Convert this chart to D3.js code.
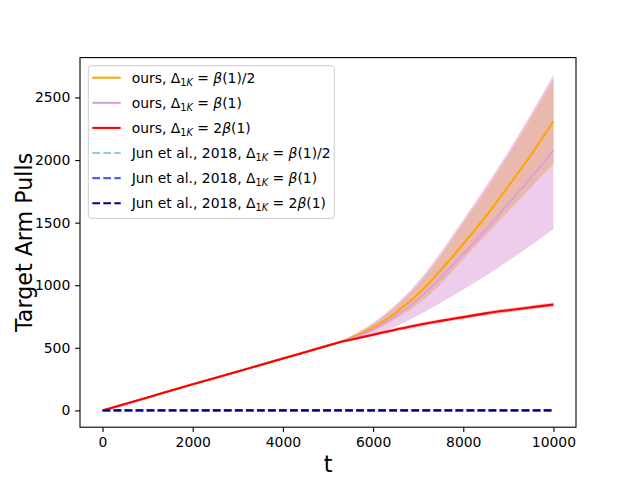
<!DOCTYPE html>
<html>
<head>
<meta charset="utf-8">
<script src="https://cdn.jsdelivr.net/npm/d3@7"></script>
<style>
  body { margin: 0; background: #fff; }
  text { font-family: "DejaVu Sans", sans-serif; }
</style>
</head>
<body>
<div id="chart"></div>
<script>
const width = 640;
const height = 480;
const margin = { left: 80, right: 64, top: 57.6, bottom: 52.8 };

// time steps
const steps = [0, 1000, 2000, 3000, 4000, 5000, 5270, 5500, 6000, 6500, 7000, 7500, 8000, 8500, 9000, 9500, 10000];

// ours, Δ = β(1)/2
const orangeMean = [0, 104, 208, 311, 415, 518, 547, 578, 660, 780, 930, 1120, 1330, 1550, 1790, 2040, 2310];
const orangeLow  = [0, 104, 208, 311, 415, 518, 547, 570, 635, 730, 850, 1010, 1210, 1400, 1590, 1780, 1970];
const orangeHigh = [0, 104, 208, 311, 415, 518, 547, 588, 690, 830, 1010, 1240, 1500, 1760, 2040, 2340, 2650];

// ours, Δ = β(1)
const plumMean = [0, 104, 208, 311, 415, 518, 547, 572, 645, 755, 890, 1060, 1250, 1445, 1650, 1860, 2075];
const plumLow  = [0, 104, 208, 311, 415, 518, 545, 556, 600, 670, 760, 860, 965, 1075, 1195, 1320, 1450];
const plumHigh = [0, 104, 208, 311, 415, 518, 549, 592, 700, 845, 1030, 1265, 1525, 1790, 2070, 2370, 2684];

// ours, Δ = 2β(1)
const redMean = [0, 104, 208, 311, 415, 518, 547, 565, 605, 645, 683, 715, 745, 775, 800, 823, 845];
const redLow  = [0, 100, 202, 303, 406, 508, 537, 554, 593, 632, 669, 701, 731, 760, 785, 808, 830];
const redHigh = [0, 108, 214, 319, 424, 528, 557, 576, 617, 658, 697, 729, 759, 790, 815, 838, 860];

// Jun et al., 2018 (all zero)
const junSteps = [0, 10000];
const junMean = [0, 0];

const xTicks = [0, 2000, 4000, 6000, 8000, 10000];
const yTicks = [0, 500, 1000, 1500, 2000, 2500];

const legendPrefix = ["ours, ", "ours, ", "ours, ", "Jun et al., 2018, ", "Jun et al., 2018, ", "Jun et al., 2018, "];
const legendRhs = ["β(1)/2", "β(1)", "2β(1)", "β(1)/2", "β(1)", "2β(1)"];
const legendColors = ["#ffa500", "#dda0dd", "#ff0000", "#87ceeb", "#4169e1", "#000080"];
const legendDashed = [false, false, false, true, true, true];

const svg = d3.select("#chart").append("svg")
  .attr("width", width)
  .attr("height", height);

const plotW = width - margin.left - margin.right;
const plotH = height - margin.top - margin.bottom;

const xMin = 0, xMax = 10000;
const xPad = (xMax - xMin) * 0.05;
const x = d3.scaleLinear().domain([xMin - xPad, xMax + xPad]).range([margin.left, margin.left + plotW]);

const yMin = 0, yMax = d3.max(plumHigh);
const yPad = (yMax - yMin) * 0.05;
const y = d3.scaleLinear().domain([yMin - yPad, yMax + yPad]).range([margin.top + plotH, margin.top]);

const zip = (ts, a, b) => ts.map((t, i) => ({ t, a: a[i], b: b ? b[i] : null }));

const area = d3.area().x(d => x(d.t)).y0(d => y(d.a)).y1(d => y(d.b)).curve(d3.curveMonotoneX);
const line = d3.line().x(d => x(d.t)).y(d => y(d.a)).curve(d3.curveMonotoneX);

const g = svg.append("g");

// bands
g.append("path").attr("d", area(zip(steps, plumLow, plumHigh))).attr("fill", "#eecdec");
g.append("path").attr("d", area(zip(steps, orangeLow, orangeHigh))).attr("fill", "#eab9ae");
g.append("path").attr("d", area(zip(steps, redLow, redHigh))).attr("fill", "#ff0000").attr("opacity", 0.3);

// lines
const drawLine = (ts, vals, color, dashed) => {
  g.append("path")
    .attr("d", line(zip(ts, vals)))
    .attr("fill", "none")
    .attr("stroke", color)
    .attr("stroke-width", 2.08)
    .attr("stroke-dasharray", dashed ? "7.7,3.33" : null);
};
drawLine(steps, orangeMean, legendColors[0], false);
drawLine(steps, plumMean, legendColors[1], false);
drawLine(steps, redMean, legendColors[2], false);
drawLine(junSteps, junMean, legendColors[3], true);
drawLine(junSteps, junMean, legendColors[4], true);
drawLine(junSteps, junMean, legendColors[5], true);

// axes
const xAxis = d3.axisBottom(x).tickValues(xTicks).tickFormat(d3.format("d")).tickSizeOuter(0).tickSize(4.86).tickPadding(4.86);
const yAxis = d3.axisLeft(y).tickValues(yTicks).tickFormat(d3.format("d")).tickSizeOuter(0).tickSize(4.86).tickPadding(4.86);

svg.append("g")
  .attr("transform", `translate(0,${margin.top + plotH})`)
  .call(xAxis)
  .call(s => s.select(".domain").remove())
  .call(s => s.selectAll("text").attr("font-size", 13.9).attr("fill", "#000").attr("font-family", "DejaVu Sans"))
  .call(s => s.selectAll("line").attr("stroke", "#000").attr("stroke-width", 1.1));

svg.append("g")
  .attr("transform", `translate(${margin.left},0)`)
  .call(yAxis)
  .call(s => s.select(".domain").remove())
  .call(s => s.selectAll("text").attr("font-size", 13.9).attr("fill", "#000").attr("font-family", "DejaVu Sans"))
  .call(s => s.selectAll("line").attr("stroke", "#000").attr("stroke-width", 1.1));

svg.append("rect")
  .attr("x", margin.left).attr("y", margin.top)
  .attr("width", plotW).attr("height", plotH)
  .attr("fill", "none").attr("stroke", "#000").attr("stroke-width", 1.1);

// axis labels
svg.append("text")
  .attr("x", margin.left + plotW / 2).attr("y", 472)
  .attr("text-anchor", "middle").attr("font-size", 22.2)
  .text("t");

svg.append("text")
  .attr("transform", `translate(32,${margin.top + plotH / 2}) rotate(-90)`)
  .attr("text-anchor", "middle").attr("font-size", 22.2)
  .text("Target Arm Pulls");

// legend
const legend = svg.append("g");
legend.append("rect")
  .attr("x", 88.3).attr("y", 65.7).attr("width", 246).attr("height", 152.6)
  .attr("rx", 2.8)
  .attr("fill", "#fff").attr("fill-opacity", 0.8)
  .attr("stroke", "#cccccc").attr("stroke-width", 1);

legendPrefix.forEach((p, i) => {
  const ly = 77.7 + i * 25.1;
  legend.append("line")
    .attr("x1", 92.3).attr("x2", 120.7).attr("y1", ly).attr("y2", ly)
    .attr("stroke", legendColors[i]).attr("stroke-width", 2.08)
    .attr("stroke-dasharray", legendDashed[i] ? "7.7,3.33" : null);

  const txt = legend.append("text")
    .attr("x", 131.7).attr("y", ly + 5)
    .attr("font-size", 13.9).attr("fill", "#000");
  txt.append("tspan").text(p);
  txt.append("tspan").text("Δ");
  txt.append("tspan").attr("dy", 3).attr("font-size", 9.7).text("1");
  txt.append("tspan").attr("font-size", 9.7).attr("font-style", "italic").text("K");
  txt.append("tspan").attr("dy", -3).text(" = ");
  legendRhs[i].split(/(β)/).forEach(part => {
    if (!part) return;
    txt.append("tspan").attr("font-style", part === "β" ? "italic" : null).text(part);
  });
});
</script>
</body>
</html>
